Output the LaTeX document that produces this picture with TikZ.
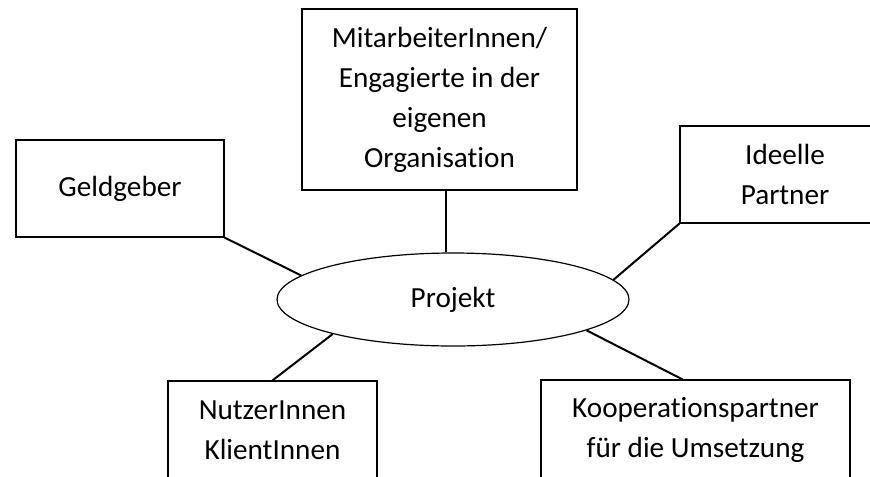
\documentclass[tikz,border=0pt]{standalone}
\usepackage{fontspec}
\setmainfont{Carlito}[Ligatures=NoCommon]
\usetikzlibrary{shapes.geometric}
\tikzset{
  box/.style={draw, line width=0.6pt, inner sep=0pt, align=center,
    font=\fontsize{14.6pt}{20pt}\selectfont},
  link/.style={line width=1pt}
}
\begin{document}
\begin{tikzpicture}[x=0.5pt, y=-0.5pt]
\useasboundingbox (0,0) rectangle (870,476);

% Project in the middle
\node[box, ellipse, minimum width=176pt, minimum height=46.5pt] (proj) at (453,299.5) {Projekt};

% Boxes around it
\node[box, minimum width=137.5pt, minimum height=90.5pt] (mit) at (439.5,99.5)
  {MitarbeiterInnen/\\Engagierte in der\\eigenen\\Organisation};
\node[box, minimum width=104pt, minimum height=48.5pt] (geld) at (120,188.5) {Geldgeber};
\node[box, minimum width=105pt, minimum height=48.5pt] (ideell) at (785,174.5) {Ideelle\\Partner};
\node[box, minimum width=104.5pt, minimum height=49pt] (nutzer) at (272.5,430) {NutzerInnen\\KlientInnen};
\node[box, minimum width=154.5pt, minimum height=49.5pt] (koop) at (695.5,429.5)
  {Kooperationspartner\\für die Umsetzung};

% Connectors
\draw[link] ([xshift=3pt]mit.south) -- ([xshift=3pt]mit.south |- proj.north);
\draw[link] (geld.south east) -- (proj.171);
\draw[link] (ideell.south west) -- (proj.7.5);
\draw[link] (nutzer.north) -- (proj.196);
\draw[link] ([xshift=-6.5pt]koop.north) -- (proj.347);
\end{tikzpicture}
\end{document}
